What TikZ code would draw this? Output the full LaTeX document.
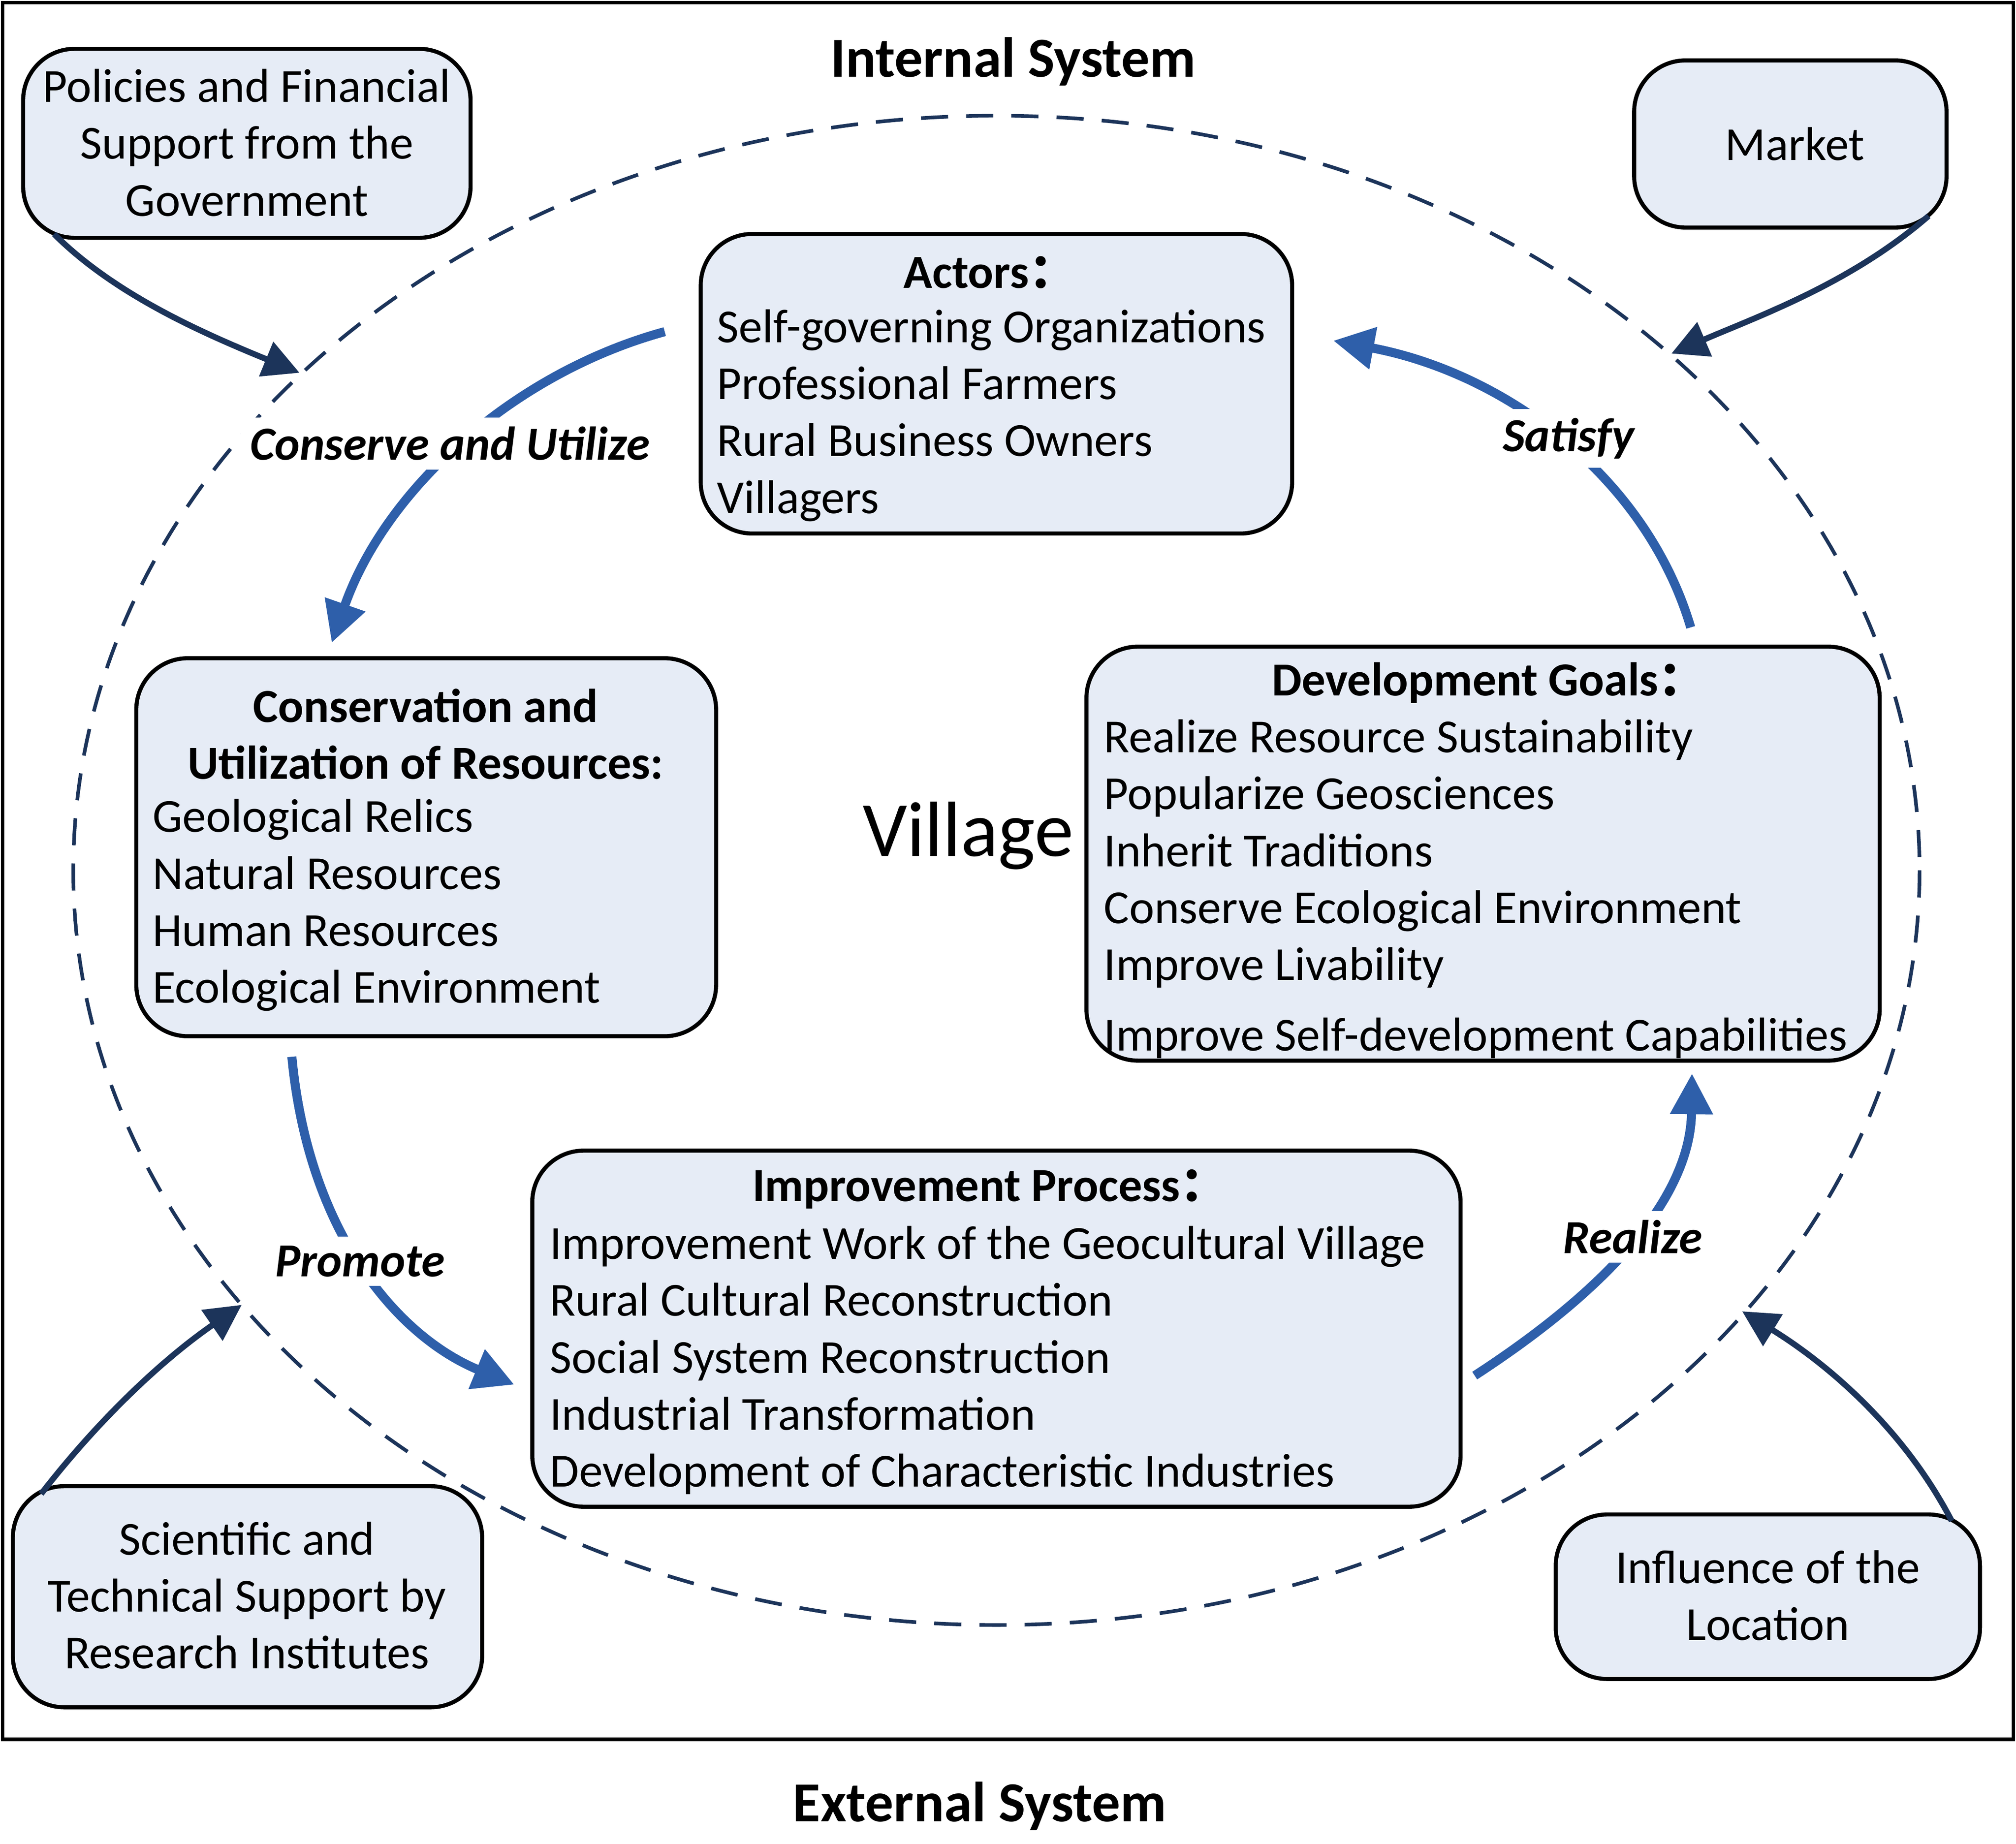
\documentclass[tikz,border=0pt]{standalone}
\usepackage{fontspec}
\setmainfont{Carlito}
\newfontfamily\cjk{Noto Sans CJK SC}
\usetikzlibrary{arrows.meta}
\definecolor{boxfill}{RGB}{230,236,246}
\definecolor{flow}{RGB}{46,95,170}
\definecolor{navy}{RGB}{28,52,90}
\newcommand{\fcolon}{{\cjk\bfseries ：}}
\begin{document}
\begin{tikzpicture}[x=0.01cm,y=-0.01cm,
  box/.style={draw=black,fill=boxfill,rounded corners=0.4cm,line width=0.9pt},
  txt/.style={font=\fontsize{10.5}{12.6}\selectfont,inner sep=0pt},
  lines/.style={txt,align=left,anchor=north west},
  ctr/.style={txt,align=center},
  flowarr/.style={draw=flow,line width=2pt,-{Triangle[length=9pt,width=9pt]}},
  extarr/.style={draw=navy,line width=1.3pt,-{Triangle[length=8pt,width=8pt]}},
  lab/.style={font=\fontsize{10.5}{12.6}\selectfont\bfseries\itshape,inner sep=0pt}]
\useasboundingbox (0,0) rectangle (1568,1434);
\draw[line width=0.8pt] (2,2) rectangle (1566,1353);
\node[font=\fontsize{12.5}{14}\selectfont\bfseries] (int) at (788,48) {Internal System};
\node[font=\fontsize{12.5}{14}\selectfont\bfseries] (ext) at (762,1405) {External System};
\draw[navy,line width=0.8pt,dash pattern=on 6pt off 4pt] (775,677) ellipse [x radius=718, y radius=587];
\node[font=\fontsize{17.3}{20}\selectfont] (vil) at (753,650) {Village};

% external boxes
\draw[box] (18,38) rectangle (366,185);
\node[ctr] (pol) at (192,111) {Policies and Financial\\Support from the\\Government};
\draw[box] (1271,47) rectangle (1514,177);
\node[ctr] (mkt) at (1396,112) {Market};
\draw[box] (10,1156) rectangle (375,1328);
\node[ctr] (sci) at (192,1241) {Scientific and\\Technical Support by\\Research Institutes};
\draw[box] (1210,1178) rectangle (1540,1306);
\node[ctr] (loc) at (1375,1241) {Influence of the\\Location};

% internal boxes
\draw[box] (545,182) rectangle (1005,415);
\node[txt,font=\fontsize{10.5}{12.6}\selectfont\bfseries] (actT) at (770,212) {Actors\fcolon};
\node[lines] (act) at (557,240) {Self-governing Organizations\\Professional Farmers\\Rural Business Owners\\Villagers};

\draw[box] (106,512) rectangle (557,806);
\node[txt,align=center,font=\fontsize{10.5}{12.6}\selectfont\bfseries] (conT) at (331,571) {Conservation and\\Utilization of Resources:};
\node[lines] (con) at (118,621) {Geological Relics\\Natural Resources\\Human Resources\\Ecological Environment};

\draw[box] (845,503) rectangle (1462,825);
\node[txt,font=\fontsize{10.5}{12.6}\selectfont\bfseries] (devT) at (1158,531) {Development Goals\fcolon};
\node[lines] (dev) at (858,559) {Realize Resource Sustainability\\Popularize Geosciences\\Inherit Traditions\\Conserve Ecological Environment\\Improve Livability\\[3pt]Improve Self-development Capabilities};

\draw[box] (414,895) rectangle (1136,1172);
\node[txt,font=\fontsize{10.5}{12.6}\selectfont\bfseries] (impT) at (770,925) {Improvement Process\fcolon};
\node[lines] (imp) at (427,953) {Improvement Work of the Geocultural Village\\Rural Cultural Reconstruction\\Social System Reconstruction\\Industrial Transformation\\Development of Characteristic Industries};

% flow arrows
\coordinate (a1) at (517,258); \coordinate (a2) at (258,500);
\coordinate (b1) at (227,822); \coordinate (b2) at (400,1077);
\coordinate (c1) at (1147,1070); \coordinate (c2) at (1316,835);
\coordinate (d1) at (1315,488); \coordinate (d2) at (1037,265);
\draw[flowarr] (a1) .. controls (400,290) and (300,380) .. (a2);
\draw[flowarr] (b1) .. controls (240,960) and (310,1040) .. (b2);
\draw[flowarr] (c1) .. controls (1270,990) and (1315,920) .. (c2);
\draw[flowarr] (d1) .. controls (1280,370) and (1170,290) .. (d2);
\node[lab,fill=white,inner sep=2pt] (l1) at (350,345) {Conserve and Utilize};
\node[lab,fill=white,inner sep=2pt] (l2) at (1220,341) {Satisfy};
\node[lab,fill=white,inner sep=2pt] (l3) at (280,981) {Promote};
\node[lab,fill=white,inner sep=2pt] (l4) at (1270,962) {Realize};

% external arrows
\coordinate (e1) at (42,182); \coordinate (e2) at (233,290);
\coordinate (f1) at (1500,168); \coordinate (f2) at (1300,275);
\coordinate (g1) at (32,1162); \coordinate (g2) at (188,1015);
\coordinate (h1) at (1518,1183); \coordinate (h2) at (1355,1020);
\draw[extarr] (e1) .. controls (90,230) and (160,260) .. (e2);
\draw[extarr] (f1) .. controls (1440,220) and (1370,245) .. (f2);
\draw[extarr] (g1) .. controls (80,1100) and (130,1055) .. (g2);
\draw[extarr] (h1) .. controls (1480,1110) and (1420,1060) .. (h2);
\end{tikzpicture}
\end{document}
